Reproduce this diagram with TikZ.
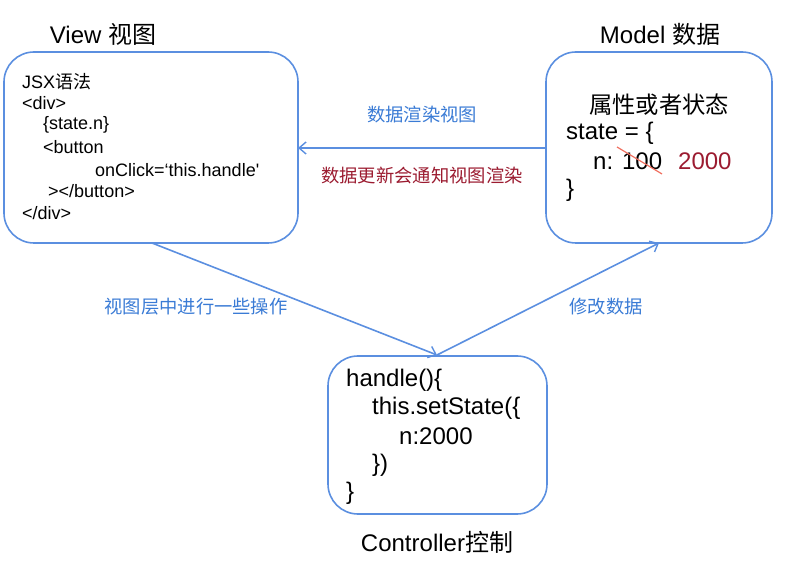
\documentclass[tikz,border=0pt]{standalone}
\usepackage{fontspec}
\setmainfont{Liberation Sans}
\newfontfamily\cjk{Noto Sans CJK SC}
\usetikzlibrary{arrows.meta}
\definecolor{boxblue}{HTML}{5B8FE0}
\definecolor{lblblue}{HTML}{3A7BD5}
\definecolor{darkred}{HTML}{9B1B30}
\definecolor{strike}{HTML}{F07060}
\tikzset{
  box/.style={draw=boxblue, line width=1.6pt, rounded corners=30pt},
  conn/.style={draw=boxblue, line width=1.6pt, -{Straight Barb[length=7pt,width=12pt,line width=1.4pt]}},
  title/.style={font=\fontsize{24}{28}\selectfont, inner sep=0pt},
  jsx/.style={anchor=west, font=\fontsize{18}{21}\selectfont, inner sep=0pt},
  big/.style={anchor=west, font=\fontsize{24}{28}\selectfont, inner sep=0pt},
  lbl/.style={font=\fontsize{18.3}{21}\selectfont\cjk, inner sep=0pt},
}
\begin{document}
\begin{tikzpicture}[x=1pt,y=-1pt]
\useasboundingbox (0,0) rectangle (796,561);
% boxes
\draw[box] (4,52) rectangle (298,243);
\draw[box] (546,52) rectangle (772,243);
\draw[box] (328,356) rectangle (547,514);
\coordinate (vr) at (298,148);
\coordinate (ml) at (546,148);
\coordinate (vb) at (152,243);
\coordinate (ct) at (437,355);
\coordinate (mb) at (659,243);
% titles
\node[title] (tv) at (103,34) {View {\cjk 视图}};
\node[title] (tm) at (660,34) {Model {\cjk 数据}};
\node[title] (tc) at (437,542) {Controller{\cjk 控制}};
% view text
\node[jsx] (v1) at (22,82) {JSX{\cjk 语法}};
\node[jsx] (v2) at (22,103) {<div>};
\node[jsx] (v3) at (43,125) {\{state.n\}};
\node[jsx] (v4) at (43,147) {<button};
\node[jsx] (v5) at (95,170) {onClick=‘this.handle\textquotesingle};
\node[jsx] (v6) at (48,191) {></button>};
\node[jsx] (v7) at (22,213) {</div>};
% model text
\node[anchor=west, inner sep=0pt, font=\fontsize{23.3}{27}\selectfont\cjk] (m1) at (589,105) {属性或者状态};
\node[big] (m2) at (566,133) {state = \{};
\node[big] (m3) at (593,161) {n: 100};
\node[big, text=darkred] (m4) at (678,161) {2000};
\node[big] (m5) at (566,190) {\}};
\draw[strike, line width=1.2pt] (617,147) -- (662,174);
% controller text
\node[big] (c1) at (346,380) {handle()\{};
\node[big] (c2) at (372,408) {this.setState(\{};
\node[big] (c3) at (399,436) {n:2000};
\node[big] (c4) at (372,465) {\})};
\node[big] (c5) at (346,493) {\}};
% connectors
\draw[conn] (ml) -- (vr);
\draw[conn] (vb) -- (ct);
\draw[conn] (ct) -- (mb);
% labels
\node[lbl, text=lblblue] (l1) at (422,115) {数据渲染视图};
\node[lbl, text=darkred] (l2) at (422,176) {数据更新会通知视图渲染};
\node[lbl, text=lblblue] (l3) at (196,307) {视图层中进行一些操作};
\node[lbl, text=lblblue] (l4) at (606,307) {修改数据};
\end{tikzpicture}
\end{document}
